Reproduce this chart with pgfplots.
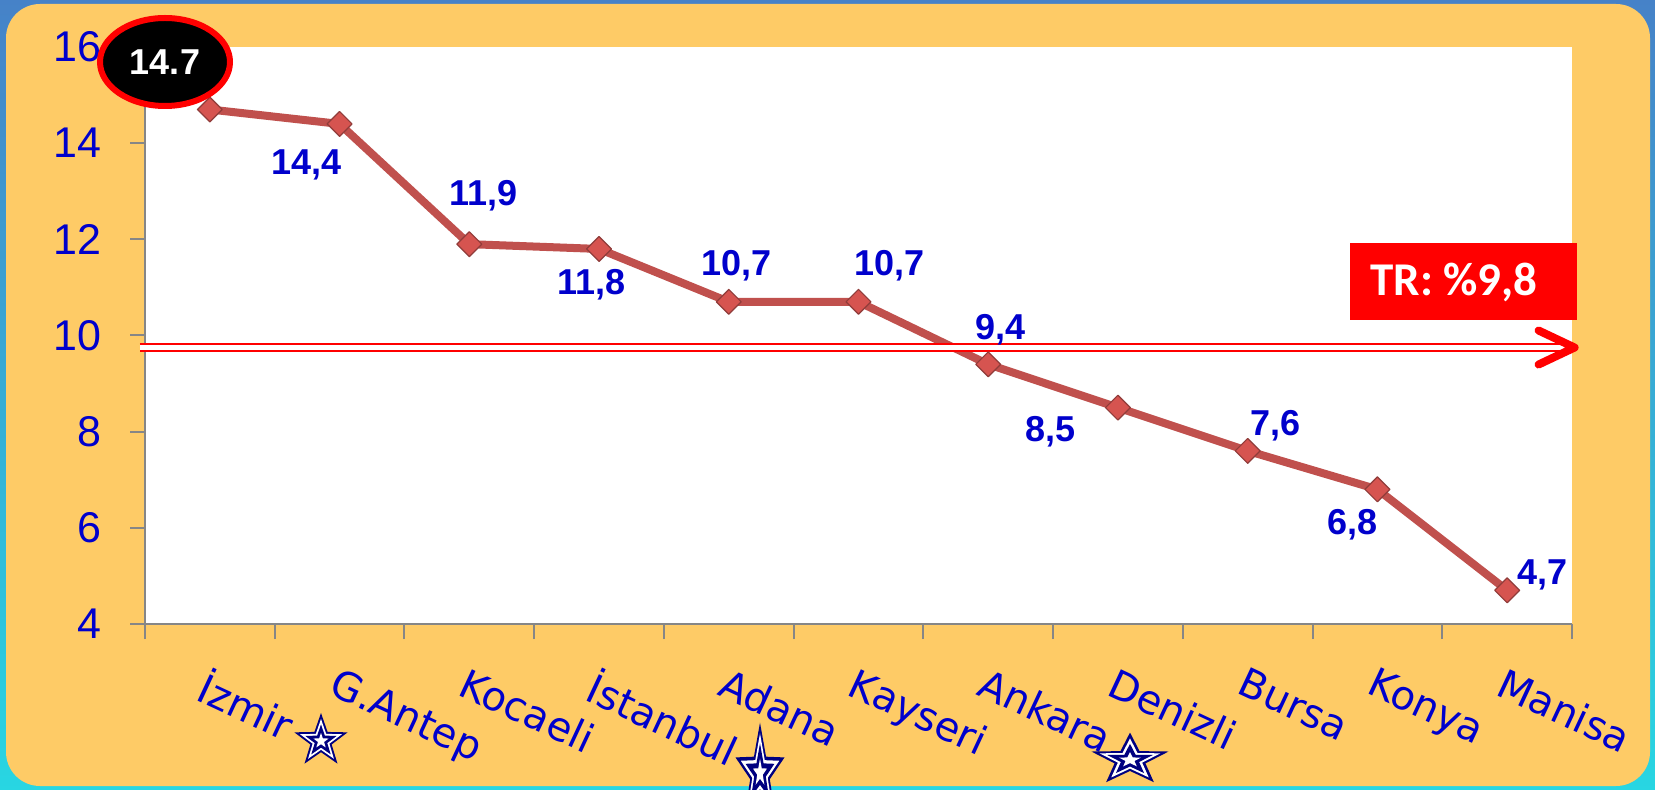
\documentclass[border=0pt]{standalone}
\usepackage{fontspec}
\setmainfont{Liberation Sans}
\newfontfamily\dejavu{DejaVu Sans}
\newfontfamily\carlito{Carlito}
\usepackage{pgfplots}
\pgfplotsset{compat=1.18}
\usetikzlibrary{shapes.geometric}
\definecolor{frameorange}{RGB}{254,203,102}
\definecolor{lblue}{RGB}{0,0,204}
\definecolor{linered}{RGB}{192,80,77}
\definecolor{markred}{RGB}{214,84,80}
\definecolor{navystar}{RGB}{0,0,128}
\definecolor{bgtop}{RGB}{70,130,200}
\definecolor{bgbot}{RGB}{40,214,226}
\definecolor{axgray}{RGB}{134,134,134}
\tikzset{mystar/.style={star, star points=5, star point ratio=2.5, inner sep=0pt, transform shape}}
\newcommand{\mystar}[4]{%
  \begin{scope}[shift={(#1,#2)}, xscale=#3, yscale=#4]
    \node[mystar, minimum size=28pt, fill=navystar] {};
    \node[mystar, minimum size=22pt, fill=white] {};
    \node[mystar, minimum size=16.5pt, fill=navystar] {};
    \node[mystar, minimum size=8pt, fill=white] {};
  \end{scope}}
\begin{document}
\begin{tikzpicture}
\begin{scope}[x=0.5pt,y=-0.5pt]
  \shade[top color=bgtop, bottom color=bgbot] (0,0) rectangle (1655,790);
  \fill[frameorange, rounded corners=17pt] (6,4) rectangle (1650,786);
\end{scope}
\begin{axis}[
  at={(72.5pt,-312pt)}, anchor=south west,
  scale only axis, width=713.5pt, height=288.5pt,
  xmin=-0.5, xmax=10.5, ymin=4, ymax=16,
  axis background/.style={fill=white},
  axis x line*=bottom, axis y line*=left,
  axis line style={axgray, line width=1pt},
  ytick={4,6,...,16},
  xtick={0,...,10},
  xticklabels={İzmir, G.Antep, Kocaeli, İstanbul, Adana, Kayseri, Ankara, Denizli, Bursa, Konya, Manisa},
  minor xtick={-0.5,0.5,...,10.5},
  tick align=outside,
  major tick length=7.5pt,
  minor tick length=7.5pt,
  major x tick style={draw=none},
  tick style={axgray, line width=1pt},
  /pgf/number format/assume math mode=true,
  yticklabel style={font=\fontsize{21.5}{24}\selectfont, text=lblue, anchor=east, inner sep=0pt, xshift=-14pt},
  xticklabel style={font=\dejavu\fontsize{20}{24}\selectfont, text=lblue, anchor=north west, inner sep=0pt, yshift=-13.5pt, rotate=-25},
  clip=false,
]
\addplot[linered, line width=4pt, line join=round, mark=square*, mark size=4.4pt,
  mark options={rotate=45, fill=markred, draw=linered!75!black, line width=0.6pt}]
  coordinates {(0,14.7)(1,14.4)(2,11.9)(3,11.8)(4,10.7)(5,10.7)(6,9.4)(7,8.5)(8,7.6)(9,6.8)(10,4.7)};
\draw[red, line width=1pt, double=white, double distance=2.5pt] (axis cs:-0.54,9.75) -- (axis cs:10.48,9.75);
\draw[red, line width=4pt, line cap=round, line join=round] (axis cs:10.52,9.75) ++(-18pt,8.5pt) -- (axis cs:10.52,9.75) -- ++(-18pt,-8.5pt);
\begin{scope}[every node/.style={font=\bfseries\fontsize{18}{20}\selectfont, text=lblue}]
\node at (axis cs:0.742,13.54) {14,4};
\node at (axis cs:2.108,12.91) {11,9};
\node at (axis cs:2.941,11.06) {11,8};
\node at (axis cs:4.06,11.46) {10,7};
\node at (axis cs:5.24,11.46) {10,7};
\node at (axis cs:6.097,10.13) {9,4};
\node at (axis cs:6.483,7.99) {8,5};
\node at (axis cs:8.211,8.13) {7,6};
\node at (axis cs:8.806,6.07) {6,8};
\node at (axis cs:10.272,5.03) {4,7};
\end{scope}
\end{axis}
\begin{scope}[x=0.5pt,y=-0.5pt]
  \fill[red] (1350,243) rectangle (1577,320);
  \node[text=white, font=\carlito\bfseries\fontsize{23.5}{26}\selectfont] at (1454,282) {TR: \%9,8};
  \node[ellipse, draw=red, line width=3pt, fill=black, minimum width=65pt, minimum height=44pt, inner sep=0pt, text=white, font=\bfseries\fontsize{18}{20}\selectfont] at (165,62) {14.7};
  \mystar{321}{741}{1}{1}
  \mystar{760}{773}{0.92}{1.8}
  \mystar{1130}{760}{1.45}{0.98}
\end{scope}
\pgfresetboundingbox
\path[use as bounding box, x=0.5pt, y=-0.5pt] (0,0) rectangle (1655,790);
\end{tikzpicture}
\end{document}
